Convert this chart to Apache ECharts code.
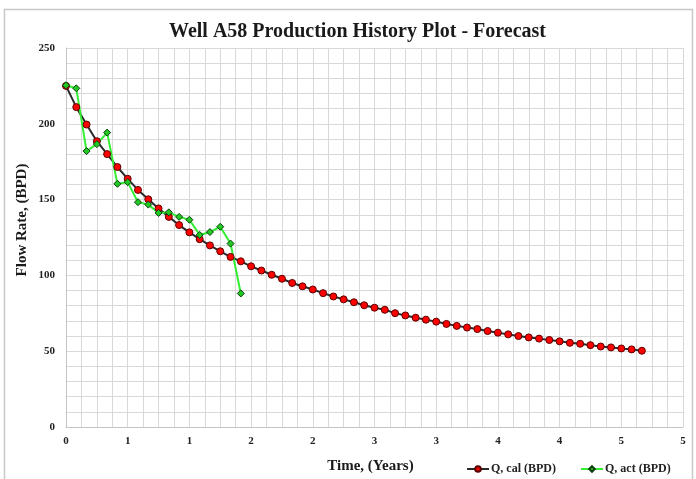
<!DOCTYPE html>
<html>
<head>
<meta charset="utf-8">
<script src="https://cdn.jsdelivr.net/npm/echarts@6/dist/echarts.min.js"></script>
<style>
html,body{margin:0;padding:0;background:#fff;}
#chart{width:696px;height:479px;}
</style>
</head>
<body>
<div id="chart"></div>
<script>
// ---- data ----
var calMonths = [0,1,2,3,4,5,6,7,8,9,10,11,12,13,14,15,16,17,18,19,20,21,22,23,24,25,26,27,28,29,30,31,32,33,34,35,36,37,38,39,40,41,42,43,44,45,46,47,48,49,50,51,52,53,54,55,56];
var qCal = [225,211,199.5,188.5,180,171.5,163.7,156.4,150.2,144.2,138.6,133.2,128.4,123.9,119.8,115.9,112.2,109.3,106,103.2,100.4,97.8,95,92.8,90.7,88.3,86.1,84.2,82.3,80.3,78.7,77.3,75.1,73.6,72.1,70.8,69.5,68,66.7,65.6,64.6,63.3,62.2,61.1,60,59.1,58.3,57.4,56.5,55.5,54.9,54,53.1,52.5,51.8,51.2,50.3];
var actMonths = [0,1,2,3,4,5,6,7,8,9,10,11,12,13,14,15,16,17];
var qAct = [225.4,223.4,182,186.6,194.2,160.4,161.5,148.3,146.7,141.2,141.6,138.6,136.7,126.7,128.6,132.1,121,88.1];
var xTickLabels = ['0','1','1','2','2','3','3','4','4','5','5'];
var yTickLabels = ['0','50','100','150','200','250'];
var seriesNames = ['Q, cal (BPD)','Q, act (BPD)'];
var titleText = 'Well A58 Production History Plot - Forecast';
var xName = 'Time, (Years)';
var yName = 'Flow Rate, (BPD)';

function toPairs(months, vals){
  var out = [];
  for (var i = 0; i < vals.length; i++) out.push([months[i] / 12, vals[i]]);
  return out;
}

var serif = '"Liberation Serif","Times New Roman",serif';
var gridColor = '#d9d9d9';

var chart = echarts.init(document.getElementById('chart'), null, {renderer:'canvas'});
chart.setOption({
  animation: false,
  backgroundColor: '#ffffff',
  title: {
    text: titleText,
    left: 164,
    top: 17,
    textStyle: {fontFamily: serif, fontWeight: 'bold', fontSize: 20, color: '#1a1a1a'}
  },
  grid: {left: 66, right: 13, top: 48, bottom: 45, containLabel: false},
  xAxis: {
    type: 'value', min: 0, max: 5, interval: 0.5,
    name: xName, nameLocation: 'middle', nameGap: 32,
    nameTextStyle: {fontFamily: serif, fontWeight: 'bold', fontSize: 15, color: '#1a1a1a', padding: [0, 8, 0, 0]},
    axisLine: {show: true, lineStyle: {color: '#c4c4c4', width: 1}},
    axisTick: {show: false},
    minorTick: {show: false, splitNumber: 4},
    splitLine: {show: true, lineStyle: {color: gridColor, width: 1}},
    minorSplitLine: {show: true, lineStyle: {color: gridColor, width: 1}},
    axisLabel: {
      fontFamily: serif, fontWeight: 'bold', fontSize: 11, color: '#222', margin: 9,
      formatter: function(v){ return xTickLabels[Math.round(v / 0.5)]; }
    }
  },
  yAxis: {
    type: 'value', min: 0, max: 250, interval: 50,
    axisLine: {show: true, lineStyle: {color: '#c4c4c4', width: 1}},
    axisTick: {show: false},
    minorTick: {show: false, splitNumber: 5},
    splitLine: {show: true, lineStyle: {color: gridColor, width: 1}},
    minorSplitLine: {show: true, lineStyle: {color: gridColor, width: 1}},
    axisLabel: {
      fontFamily: serif, fontWeight: 'bold', fontSize: 11, color: '#222', margin: 11,
      formatter: function(v){ return yTickLabels[Math.round(v / 50)]; }
    }
  },
  legend: {
    left: 461, top: 458,
    itemWidth: 22, itemHeight: 7, itemGap: 24,
    textStyle: {fontFamily: serif, fontWeight: 'bold', fontSize: 12, color: '#222', padding: [0,0,0,-3]},
    data: seriesNames
  },
  graphic: [
    {type: 'rect', silent: true, z: -1, shape: {x: 4.5, y: 9.5, width: 688, height: 476},
     style: {fill: 'none', stroke: '#c8c8c8', lineWidth: 1.5}},
    {type: 'text', x: 22, y: 220, rotation: Math.PI / 2,
     style: {text: yName, fontFamily: serif, fontWeight: 'bold', fontSize: 15, fill: '#1a1a1a', align: 'center', verticalAlign: 'middle'}}
  ],
  series: [
    {
      name: seriesNames[0], type: 'line',
      data: toPairs(calMonths, qCal),
      symbol: 'circle', symbolSize: 7, showAllSymbol: true,
      lineStyle: {color: '#2a2a2a', width: 2},
      itemStyle: {color: '#ff0000', borderColor: '#5a0000', borderWidth: 1}
    },
    {
      name: seriesNames[1], type: 'line',
      data: toPairs(actMonths, qAct),
      symbol: 'diamond', symbolSize: 7, showAllSymbol: true,
      lineStyle: {color: '#33ee33', width: 2},
      itemStyle: {color: '#22c922', borderColor: '#0b3d0b', borderWidth: 1}
    }
  ]
});
</script>
</body>
</html>
